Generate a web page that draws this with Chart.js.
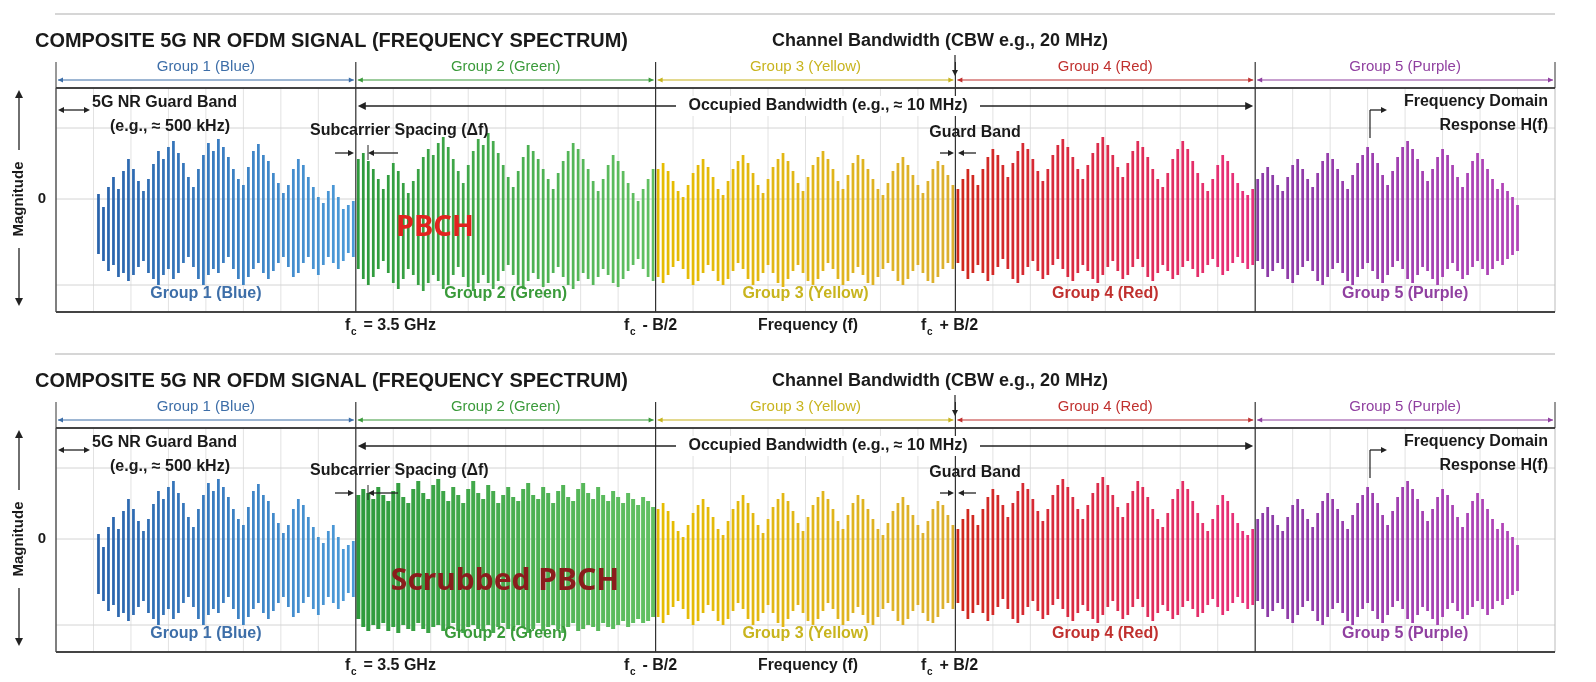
<!DOCTYPE html>
<html><head><meta charset="utf-8">
<script src="https://cdn.jsdelivr.net/npm/chart.js@4.4.1/dist/chart.umd.min.js"></script>
<style>body{margin:0;background:#fff;width:1596px;height:682px;overflow:hidden}canvas{position:absolute;left:0}</style>
</head><body>
<canvas id="c1" width="1596" height="341" style="top:0"></canvas>
<canvas id="c2" width="1596" height="341" style="top:340px"></canvas>
<script>
const groups = ["Group 1 (Blue)","Group 2 (Green)","Group 3 (Yellow)","Group 4 (Red)","Group 5 (Purple)"];
const groupStart = [8,60,120,180,240];
const blueTop=[5,-8,12,22,10,28,40,30,18,8,20,35,48,40,52,58,46,36,22,12,30,44,56,48,60,52,42,30,20,14,32,48,55,44,38,26,16,6,14,30,40,34,22,12,2,-4,8,14,2,-10,-6,-2];
const blueBot=[-55,-62,-72,-66,-78,-74,-82,-76,-68,-62,-74,-80,-86,-76,-70,-80,-74,-64,-58,-68,-80,-86,-76,-70,-74,-64,-58,-70,-80,-86,-78,-70,-64,-74,-80,-72,-64,-58,-68,-78,-74,-64,-58,-70,-76,-66,-58,-64,-70,-62,-54,-58];
const greenTop=[40,46,38,30,20,10,24,36,28,16,6,18,30,42,50,44,56,62,52,40,28,16,34,48,60,54,66,58,46,34,22,12,28,42,54,48,40,30,20,10,26,38,48,56,50,40,30,18,8,20,34,44,38,28,16,6,-2,10,20,30];
const greenBot=[-70,-80,-86,-78,-70,-62,-74,-84,-90,-80,-70,-76,-86,-92,-84,-76,-82,-90,-86,-76,-68,-78,-88,-92,-84,-76,-84,-90,-82,-72,-66,-76,-86,-90,-82,-74,-80,-88,-84,-74,-68,-78,-86,-90,-82,-74,-80,-86,-78,-70,-76,-84,-88,-80,-72,-66,-60,-70,-78,-82];
const greenTop2=[44,50,46,40,52,44,38,48,56,42,36,50,58,46,40,54,60,48,38,52,44,36,50,58,46,40,54,48,36,44,52,42,38,50,56,44,40,52,46,36,48,54,42,38,50,56,46,40,52,44,38,48,42,36,46,40,34,42,38,32];
const greenBot2=[-80,-88,-92,-86,-90,-84,-92,-88,-94,-86,-90,-92,-84,-90,-94,-88,-86,-92,-90,-84,-92,-94,-88,-86,-90,-92,-86,-94,-88,-84,-90,-92,-86,-88,-94,-90,-84,-92,-88,-86,-90,-94,-88,-84,-92,-90,-86,-88,-92,-84,-88,-90,-86,-82,-88,-84,-80,-84,-82,-78];
const yellowTop=[30,36,28,18,8,2,14,26,34,40,32,22,10,4,18,30,38,44,36,26,14,6,20,32,40,46,38,28,16,8,22,34,42,48,40,30,18,10,24,36,44,40,30,20,10,4,16,28,36,42,34,24,14,6,18,30,38,34,24,14];
const yellowBot=[-78,-84,-76,-68,-62,-70,-80,-86,-82,-74,-66,-72,-82,-86,-80,-72,-64,-70,-80,-86,-82,-74,-66,-74,-84,-88,-80,-72,-66,-74,-82,-86,-80,-72,-64,-70,-80,-86,-82,-74,-68,-76,-84,-86,-78,-70,-64,-72,-82,-86,-80,-72,-66,-74,-82,-84,-78,-70,-64,-70];
const redTop=[10,20,30,24,14,30,42,50,44,34,22,36,48,56,50,40,28,18,30,44,54,60,52,42,30,20,34,46,56,62,54,44,32,22,36,48,58,52,42,30,20,12,26,40,50,58,50,38,26,16,8,20,34,44,38,26,16,8,4,10];
const redBot=[-64,-72,-80,-74,-66,-74,-82,-76,-68,-60,-70,-80,-84,-76,-68,-62,-72,-80,-76,-66,-60,-70,-78,-82,-74,-66,-72,-80,-84,-76,-68,-62,-72,-80,-76,-68,-60,-68,-78,-82,-74,-66,-72,-80,-76,-68,-62,-70,-78,-74,-66,-60,-68,-76,-72,-64,-58,-64,-70,-66];
const purpleTop=[20,26,32,24,14,8,22,34,40,30,20,12,26,38,46,40,30,18,10,24,36,44,52,46,36,24,14,28,42,52,58,50,40,28,18,30,42,50,44,34,22,12,26,38,46,40,30,20,10,16,8,2,-6];
const purpleBot=[-62,-70,-78,-72,-64,-70,-80,-84,-76,-68,-62,-72,-82,-86,-78,-70,-64,-74,-82,-86,-78,-70,-64,-72,-80,-84,-76,-68,-62,-70,-80,-84,-76,-68,-72,-80,-86,-78,-70,-64,-72,-80,-76,-68,-62,-70,-76,-70,-62,-66,-60,-56,-52];
const yTicks=[-86,0,71];

const gradFrom=["#2a64ac","#2e9a3c","#e6bc00","#d0281c","#8a3aa6"];
const gradTo  =["#4c9ad8","#62c062","#dcb030","#e8307c","#b244b8"];
const labelCol=["#3d6ea8","#3a9a3a","#c8b41e","#c0302e","#9040a0"];

function mix(a,b,t){const p=s=>[1,3,5].map(i=>parseInt(s.substr(i,2),16));const A=p(a),B=p(b);return `rgb(${A.map((v,i)=>Math.round(v+(B[i]-v)*t)).join(',')})`;}
function buildSet(tops,bots,g,bp){
  const data=tops.map((v,i)=>({x:groupStart[g]+i+0.5,y:[bots[i],v]}));
  const cols=tops.map((v,i)=>mix(gradFrom[g],gradTo[g],i/(tops.length-1)));
  return {type:'bar',data,backgroundColor:cols,barPercentage:bp,categoryPercentage:1,grouped:false};
}

function txt(ctx,s,x,y,o={}){
  ctx.save();ctx.font=o.font||"bold 16px 'Liberation Sans', Arial";ctx.fillStyle=o.color||'#1a1a1a';
  ctx.textAlign=o.align||'left';ctx.textBaseline='middle';
  if(o.bg){const w=o.maxW||ctx.measureText(s).width;let l=o.align==='center'?x-w/2:(o.align==='right'?x-w:x);ctx.fillStyle='#fff';ctx.fillRect(l-4,y-10,w+8,20);ctx.fillStyle=o.color||'#1a1a1a';}
  if(o.maxW)ctx.fillText(s,x,y,o.maxW);else ctx.fillText(s,x,y);ctx.restore();
}
function fc(ctx,rest,x,y,w){
  ctx.save();ctx.fillStyle='#1a1a1a';ctx.textBaseline='middle';
  ctx.font="bold 16px 'Liberation Sans', Arial";ctx.fillText('f',x,y);
  ctx.font="bold 10px 'Liberation Sans', Arial";ctx.fillText('c',x+6,y+6);
  ctx.font="bold 16px 'Liberation Sans', Arial";ctx.fillText(rest,x+14,y,w);ctx.restore();
}
function head(ctx,x,y,dir,col,s=6){ctx.save();ctx.fillStyle=col;ctx.beginPath();
  if(dir==='r'){ctx.moveTo(x,y);ctx.lineTo(x-s,y-s/2);ctx.lineTo(x-s,y+s/2);}
  else if(dir==='l'){ctx.moveTo(x,y);ctx.lineTo(x+s,y-s/2);ctx.lineTo(x+s,y+s/2);}
  else if(dir==='u'){ctx.moveTo(x,y);ctx.lineTo(x-s/2,y+s);ctx.lineTo(x+s/2,y+s);}
  else {ctx.moveTo(x,y);ctx.lineTo(x-s/2,y-s);ctx.lineTo(x+s/2,y-s);}
  ctx.fill();ctx.restore();}
function line(ctx,x1,y1,x2,y2,col,w){ctx.save();ctx.strokeStyle=col;ctx.lineWidth=w||1;ctx.beginPath();ctx.moveTo(x1,y1);ctx.lineTo(x2,y2);ctx.stroke();ctx.restore();}

function makeChart(id,scrubbed){
  const sets=[buildSet(blueTop,blueBot,0,0.55),
    scrubbed?buildSet(greenTop2,greenBot2,1,0.8):buildSet(greenTop,greenBot,1,0.55),
    buildSet(yellowTop,yellowBot,2,0.55),buildSet(redTop,redBot,3,0.55),buildSet(purpleTop,purpleBot,4,0.55)];
  const deco={id:'deco',
    beforeDatasetsDraw(c){const ctx=c.ctx,xs=c.scales.x,ys=c.scales.y,a=c.chartArea;
      for(let u=7.5;u<300;u+=7.5)line(ctx,xs.getPixelForValue(u),a.top,xs.getPixelForValue(u),a.bottom,'#e2e2e2',1);
      yTicks.forEach(v=>line(ctx,a.left,ys.getPixelForValue(v),a.right,ys.getPixelForValue(v),'#d4d4d4',1));
      line(ctx,a.left,a.top,a.left,a.bottom,'#555',1.5);line(ctx,a.right,a.top,a.right,a.bottom,'#bbb',1);
    },
    afterDatasetsDraw(c){const ctx=c.ctx,xs=c.scales.x,ys=c.scales.y,a=c.chartArea;
      const X=u=>xs.getPixelForValue(u);
      line(ctx,55,14,1555,14,'#c8c8c8',1.5);
      line(ctx,a.left,a.top,a.right,a.top,'#444',2);line(ctx,a.left,a.bottom,a.right,a.bottom,'#444',2);
      [60,120,180,240].forEach(u=>line(ctx,X(u),62,X(u),a.bottom,'#333',1.2));
      line(ctx,a.left,62,a.left,a.top,'#333',1);line(ctx,a.right,62,a.right,a.top,'#333',1);
      txt(ctx,"COMPOSITE 5G NR OFDM SIGNAL (FREQUENCY SPECTRUM)",35,41,{font:"bold 20px 'Liberation Sans', Arial",maxW:593});
      txt(ctx,"Channel Bandwidth (CBW e.g., 20 MHz)",940,41,{font:"bold 18px 'Liberation Sans', Arial",align:'center',maxW:342});
      groups.forEach((g,i)=>{const l=X(i*60),r=X(i*60+60),m=(l+r)/2;
        txt(ctx,g,m,67,{font:"15px 'Liberation Sans', Arial",color:labelCol[i],align:'center',maxW:g.length*7.3});
        line(ctx,l+2,80,r-2,80,labelCol[i],1.2);head(ctx,l+2,80,'l',labelCol[i],5);head(ctx,r-2,80,'r',labelCol[i],5);
        txt(ctx,g,m,294,{font:"bold 16px 'Liberation Sans', Arial",color:labelCol[i],align:'center',maxW:g.length*8.2});
      });
      line(ctx,955,55,955,72,'#222',1.2);head(ctx,955,76,'d','#222',6);
      // guard band
      line(ctx,60,110,88,110,'#222',1.3);head(ctx,58,110,'l','#222',6);head(ctx,90,110,'r','#222',6);
      txt(ctx,"5G NR Guard Band",92,103,{maxW:156});
      txt(ctx,"(e.g., \u2248 500 kHz)",170,127,{align:'center',maxW:130});
      // occupied bw
      line(ctx,X(60)+4,106,X(240)-4,106,'#222',1.3);head(ctx,X(60)+2,106,'l','#222',8);head(ctx,X(240)-2,106,'r','#222',8);
      txt(ctx,"Occupied Bandwidth (e.g., \u2248 10 MHz)",828,106,{align:'center',maxW:296,bg:1});
      // subcarrier
      txt(ctx,"Subcarrier Spacing (\u0394f)",310,131,{maxW:190});
      line(ctx,335,153,350,153,'#222',1.3);head(ctx,354,153,'r','#222',6);
      line(ctx,372,153,398,153,'#222',1.3);head(ctx,368,153,'l','#222',6);
      line(ctx,368,145,368,160,'#222',1);
      txt(ctx,"Guard Band",975,133,{align:'center',maxW:98});
      line(ctx,940,153,950,153,'#222',1.3);head(ctx,954,153,'r','#222',6);
      line(ctx,962,153,976,153,'#222',1.3);head(ctx,958,153,'l','#222',6);
      txt(ctx,"Frequency Domain",1548,102,{align:'right',maxW:160});
      txt(ctx,"Response H(f)",1548,126,{align:'right',maxW:128});
      line(ctx,1370,110,1382,110,'#222',1.3);head(ctx,1387,110,'r','#222',6);line(ctx,1370,110,1370,138,'#222',1.2);
      // axis
      txt(ctx,"0",42,ys.getPixelForValue(0),{font:"bold 15px 'Liberation Sans', Arial",align:'center'});
      ctx.save();ctx.translate(19,199);ctx.rotate(-Math.PI/2);txt(ctx,"Magnitude",0,0,{font:"bold 15px 'Liberation Sans', Arial",align:'center',maxW:76});ctx.restore();
      line(ctx,19,96,19,150,'#222',1.3);head(ctx,19,90,'u','#222',8);
      line(ctx,19,248,19,300,'#222',1.3);head(ctx,19,306,'d','#222',8);
      fc(ctx," = 3.5 GHz",345,326,82);fc(ctx," - B/2",624,326,50);
      txt(ctx,"Frequency (f)",808,326,{align:'center',maxW:100});fc(ctx," + B/2",921,326,50);
      if(!scrubbed)txt(ctx,"PBCH",435,228,{font:"bold 29px 'Noto Sans', sans-serif",color:'#e2231f',align:'center',maxW:92});
      else txt(ctx,"Scrubbed PBCH",505,241,{font:"bold 30px 'Noto Sans', sans-serif",color:'#8a1c1c',align:'center',maxW:256});
    }};
  new Chart(document.getElementById(id),{type:'bar',data:{datasets:sets},
    options:{responsive:false,animation:false,devicePixelRatio:1,
      layout:{padding:{left:56,right:41,top:88,bottom:29}},
      plugins:{legend:{display:false},tooltip:{enabled:false}},
      scales:{x:{type:'linear',min:0,max:300,display:false,offset:false},y:{min:-113,max:111,display:false}}},
    plugins:[deco]});
}
makeChart('c1',false);makeChart('c2',true);
</script></body></html>
